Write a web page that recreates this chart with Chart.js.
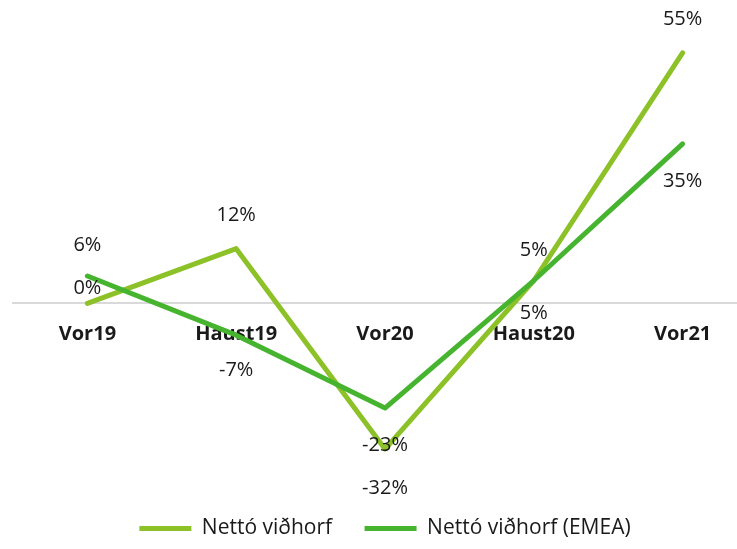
<!DOCTYPE html>
<html>
<head>
<meta charset="utf-8">
<script src="https://cdn.jsdelivr.net/npm/chart.js@4/dist/chart.umd.min.js"></script>
<style>
  html, body { margin: 0; padding: 0; overflow: hidden; background: #fff; }
  #wrap { width: 737px; height: 549px; overflow: hidden; }
</style>
</head>
<body>
<div id="wrap"><canvas id="chart" width="757" height="549"></canvas></div>
<script>
const categories = ["Vor19", "Haust19", "Vor20", "Haust20", "Vor21"];
const nettoVidhorf = [0, 12, -32, 5, 55];
const nettoVidhorfEmea = [6, -7, -23, 5, 35];

// label offset in px from each point (negative = above)
const labelOffsets = [
  [-15, -33, 39, -30, -33],
  [-31, 35, 37, 33, 37]
];

const FONT = "'Open Sans', sans-serif";

const pointLabels = {
  id: "pointLabels",
  afterDatasetsDraw(chart) {
    const ctx = chart.ctx;
    ctx.save();
    ctx.font = "20px " + FONT;
    ctx.fillStyle = "#1a1a1a";
    ctx.textAlign = "center";
    ctx.textBaseline = "middle";
    chart.data.datasets.forEach((ds, di) => {
      const meta = chart.getDatasetMeta(di);
      meta.data.forEach((pt, i) => {
        ctx.fillText(ds.data[i] + "%", pt.x, pt.y + labelOffsets[di][i]);
      });
    });
    ctx.restore();
  }
};

new Chart(document.getElementById("chart"), {
  type: "line",
  data: {
    labels: categories,
    datasets: [{
      label: "Nettó viðhorf",
      data: nettoVidhorf,
      borderColor: "#8cc227",
      backgroundColor: "#8cc227",
      borderWidth: 5,
      borderCapStyle: "round",
      borderJoinStyle: "round",
      pointRadius: 0,
      tension: 0,
      order: 2
    }, {
      label: "Nettó viðhorf (EMEA)",
      data: nettoVidhorfEmea,
      borderColor: "#47b430",
      backgroundColor: "#47b430",
      borderWidth: 5,
      borderCapStyle: "round",
      borderJoinStyle: "round",
      pointRadius: 0,
      tension: 0,
      order: 1
    }]
  },
  options: {
    responsive: false,
    animation: false,
    layout: { padding: { top: 30, left: 13, right: 0, bottom: 0 } },
    scales: {
      x: {
        position: { y: 0 },
        offset: true,
        grid: { display: false, drawTicks: false },
        border: { display: true, color: "#d9d9d9", width: 2 },
        ticks: {
          padding: 19,
          color: "#1a1a1a",
          font: { family: FONT, size: 20, weight: "bold" },
          maxRotation: 0
        }
      },
      y: {
        display: false,
        min: -40,
        max: 60
      }
    },
    plugins: {
      legend: {
        position: "bottom",
        labels: {
          usePointStyle: true,
          pointStyle: "line",
          pointStyleWidth: 52,
          padding: 32.5,
          color: "#1a1a1a",
          font: { family: FONT, size: 21 },
          sort: (a, b) => a.datasetIndex - b.datasetIndex
        }
      },
      tooltip: { enabled: false }
    }
  },
  plugins: [pointLabels]
});
</script>
</body>
</html>
